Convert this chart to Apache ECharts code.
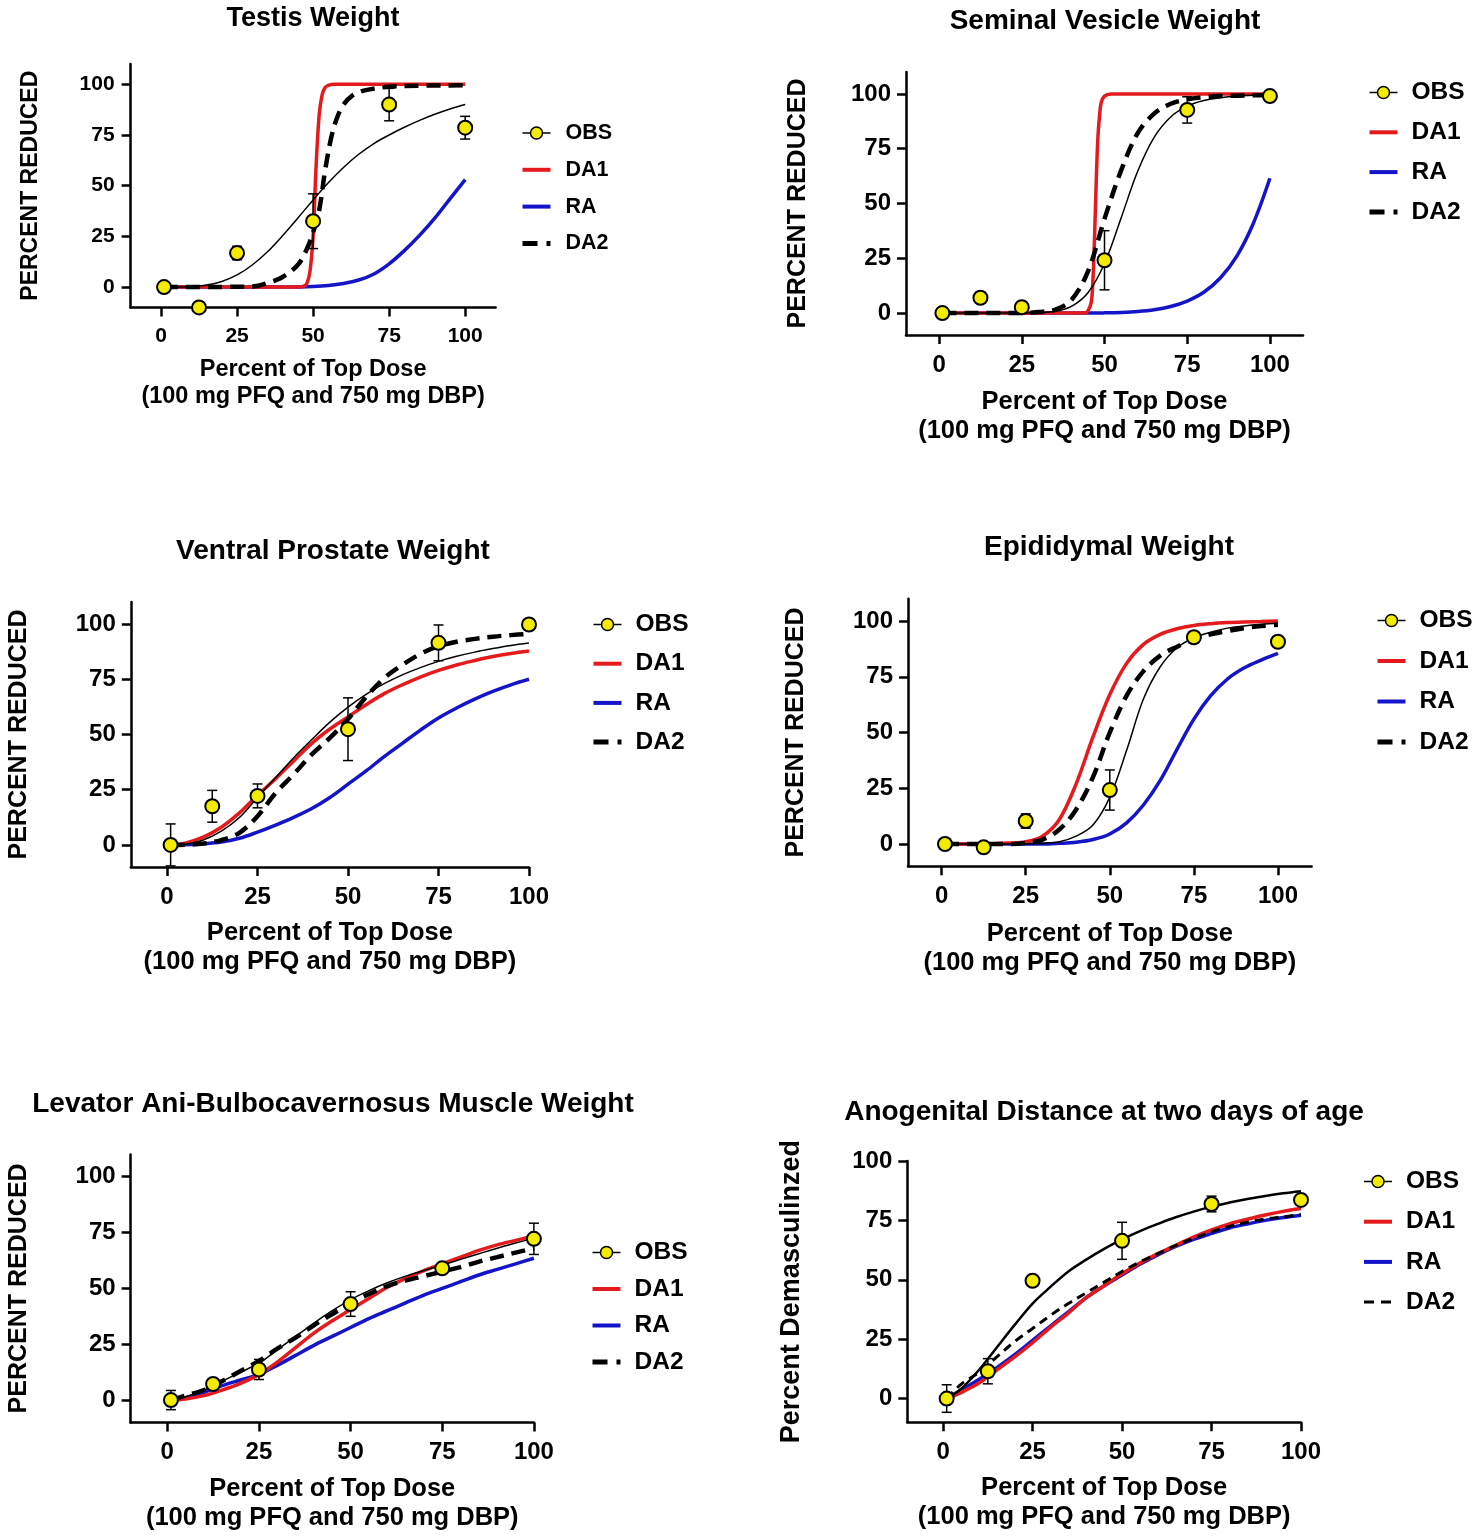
<!DOCTYPE html>
<html>
<head>
<meta charset="utf-8">
<script src="https://cdn.jsdelivr.net/npm/echarts@6/dist/echarts.min.js"></script>
<style>
html,body{margin:0;padding:0;background:#fff;width:1474px;height:1539px;overflow:hidden;}
.pane{position:absolute;left:0;top:0;width:1474px;height:1539px;}
</style>
</head>
<body>
<div id="c0" class="pane"></div>
<div id="c1" class="pane"></div>
<div id="c2" class="pane"></div>
<div id="c3" class="pane"></div>
<div id="c4" class="pane"></div>
<div id="c5" class="pane"></div>
<script>
// ---------- shared ----------
const tickValues = [0, 25, 50, 75, 100];
const obsDose = [1, 12.5, 25, 50, 75, 100];
const doseGrid = [1,5,10,15,20,25,30,35,40,45,50,55,60,65,70,75,80,85,90,95,100];
const xAxisName = 'Percent of Top Dose\n(100 mg PFQ and 750 mg DBP)';

// ---------- Testis Weight ----------
const testisObs = [0, -10, 16.8, 32.5, 90, 78.6];
const testisErr = [1.5, 2.5, 3.3, 13.5, 8, 5.6];
const testisFit = [0,0,0.2,1,2.8,6,10.9,17.4,25.4,34.1,43,51.5,59,65.5,70.8,75,78.8,82.2,85.2,87.8,90];
const testisRA  = [0,0,0,0,0,0,0,0,0.05,0.1,0.3,0.8,1.8,3.5,6.5,11.5,18,25.5,34,43.5,53];
const testisDA1Dose = [1,45,47,48,49,50,50.5,51,52,53,54,55,57,60,100];
const testisDA1     = [0,0,0.5,2,8,25,42,60,85,95,98.5,99.5,100,100,100];
const testisDA2Dose = [1,30,35,40,45,48,50,52,54,56,58,60,63,67,75,85,100];
const testisDA2     = [0,0.3,2,5,11,19,27,38,58,74,84,90,94.5,97,98.8,99.3,99.5];

// ---------- Seminal Vesicle Weight ----------
const svObs = [0, 7, 2.7, 24.1, 92.7, 99];
const svErr = [1, 2.5, 2.5, 13.5, 6, 1];
const svFit = [0,0,0,0,0,0,0.2,0.8,3.1,9.3,22.6,43.3,64.6,80.2,89.5,94.4,97,98.3,99.1,99.4,99.7];
const svRA  = [0,0,0,0,0,0,0,0,0,0,0.1,0.3,0.7,1.5,3,5.5,9.5,16,26,41,61.5];
const svDA1Dose = [1,44,45,46,46.5,47,47.5,48,48.5,49,50,52,100];
const svDA1     = [0,0,1,5,15,35,60,80,90,96,99,100,100];
const svDA2 = [0,0,0,0,0,0,0.5,1.5,6,19,43,65,82,91,95.5,97.5,98.5,99,99.2,99.4,99.5];

// ---------- Ventral Prostate Weight ----------
const vpObs = [0, 17.5, 22.2, 52.4, 91.5, 99.8];
const vpErr = [9.5, 7.2, 5.4, 14.2, 8.1, 1];
const vpFit = [0,0.35,2.2,6.2,12.4,21.5,30.5,39.5,47.7,55.6,62.4,68.2,73,77,80.3,83.1,85.4,87.3,88.9,90.3,91.4];
const vpDA1 = [0,0.8,3.5,8,14.5,22.5,30,38,46,52.5,58,63.5,68.5,72.5,76,79,81.5,83.5,85.3,86.7,87.8];
const vpRA  = [0,0.1,0.5,1.3,3,5.8,9,12.5,16.5,21.5,27.5,33.5,40,46,52,57.5,62,66,69.5,72.5,75];
const vpDA2 = [0,0.1,0.6,2.2,5.5,13,23.5,32,41,48.5,57,67,75.5,81.5,86.5,90,92,93.3,94.3,95,95.6];

// ---------- Epididymal Weight ----------
const epObs = [0, -1.5, 10.3, 24.2, 92.7, 90.7];
const epErr = [1, 1, 3.2, 9, 2.5, 1.5];
const epFit = [0,0,0,0,0,0,0.3,1,3.5,8.5,21,42,65,79.5,88,92.5,95,96.8,97.8,98.5,99];
const epDA1 = [0,0,0,0.1,0.4,1,3.5,11,27,48,67,81,89.5,94,96.5,98,98.8,99.3,99.6,99.8,100];
const epRA  = [0,0,0,0,0,0,0,0.3,0.8,2,4.5,9.5,17.5,28.5,42.5,56,66.5,74,79,82.5,85.5];
const epDA2 = [0,0,0,0,0,0.5,2,6.5,15.5,30,50,66.5,77.5,84.5,88.5,92,94,95.5,96.8,97.7,98.3];

// ---------- Levator Ani-Bulbocavernosus Muscle Weight ----------
const levObs = [0, 7.2, 13.7, 43, 59, 72.2];
const levErr = [4.3, 2, 4.5, 5.5, 2, 7];
const levFit = [0,1.5,4.5,8.5,12.5,16.5,22.5,28.5,34.5,40,45,49,52.5,55.5,58,60.5,63,65.5,68,70.3,72.5];
const levDA1 = [0,0.5,2,4.5,7.5,11.5,17,23.5,30,35.5,40.5,45.5,50.5,54.5,58,61,64,67,69.5,71.5,73.5];
const levRA  = [0,1,3.5,6.5,9,11.5,15.5,20,24.5,28.5,32.5,36.5,40,43.5,47,50,53,56,58.5,61,63.5];
const levDA2 = [0,2,4.5,8.5,13,17.5,23,28,33.5,38.5,43.5,47.5,51,53.5,55.5,57.5,59.5,62,64,66,68];

// ---------- Anogenital Distance ----------
const agdObs = [0, 11.5, 49.6, 66.4, 81.9, 83.6];
const agdErr = [5.8, 5.3, 1, 7.8, 3.3, 1];
const agdFit = [0,4,12,21.5,31,40,47,53.5,58.5,63,67,70.5,73.5,76.3,78.7,80.8,82.5,84,85.3,86.4,87.3];
const agdDA1 = [0,2.5,6.5,12,17.5,23.5,30,36,42.5,47.5,52.5,57,61,64.5,68,71,73.5,75.5,77.3,78.8,80];
const agdRA  = [0,3.5,8,13,18.5,24.5,30.5,36.5,42.5,47.5,52,56.5,60.5,64,67,69.5,71.8,73.5,75,76.2,77.2];
const agdDA2 = [0,6,11,17.5,24,29.5,35,40,44.5,49,53.5,57.5,61,64.5,67.5,70.2,72.5,74.2,75.6,76.5,77.5];

// ---------- rendering ----------
const FONT = '"Liberation Sans", Arial, Helvetica, sans-serif';
const RED = '#e41a1c', BLUE = '#1414c8', YELLOW = '#f4ec00';
function pairs(xs, ys) { return xs.map((x, i) => [x, ys[i]]); }
function errData(ys, es) { return obsDose.map((x, i) => [x, ys[i] - es[i], ys[i] + es[i]]); }

function errRender(params, api) {
  const x = api.value(0), lo = api.value(1), hi = api.value(2);
  const a = api.coord([x, hi]), b = api.coord([x, lo]);
  const w = 5;
  const st = { stroke: '#000', lineWidth: 1.5 };
  return { type: 'group', children: [
    { type: 'line', shape: { x1: a[0], y1: a[1], x2: b[0], y2: b[1] }, style: st },
    { type: 'line', shape: { x1: a[0] - w, y1: a[1], x2: a[0] + w, y2: a[1] }, style: st },
    { type: 'line', shape: { x1: b[0] - w, y1: b[1], x2: b[0] + w, y2: b[1] }, style: st }
  ]};
}

const panels = [
  { id: 'c0', title: 'Testis Weight', titleSize: 27, tx: 313, ty: 5.5,
    grid: { left: 130.6, top: 64, width: 365, height: 243.4 }, xMax: 110, yMax: 110,
    tickSize: 21, yLabelMargin: 16, nameSize: 23.5, nameLH: 27,
    yName: 'PERCENT REDUCED', yNameSize: 23, yNameGap: 88, xNameGap: 48.5,
    leg: { left: 520, top: 122, gap: 14.8, size: 21.5, pad: 10 },
    obs: testisObs, err: testisErr, fit: pairs(doseGrid, testisFit),
    da1: pairs(testisDA1Dose, testisDA1), ra: pairs(doseGrid, testisRA), da2: pairs(testisDA2Dose, testisDA2), thin: false },
  { id: 'c1', title: 'Seminal Vesicle Weight', titleSize: 28, tx: 1105, ty: 7,
    grid: { left: 906, top: 72, width: 397, height: 263 }, xMax: 110, yMax: 110,
    tickSize: 24, yLabelMargin: 15, nameSize: 25.5, nameLH: 29,
    yName: 'PERCENT REDUCED', yNameSize: 25, yNameGap: 95.5, xNameGap: 52.5,
    leg: { left: 1367, top: 80, gap: 14.8, size: 24.5, pad: 9 },
    obs: svObs, err: svErr, fit: pairs(doseGrid, svFit),
    da1: pairs(svDA1Dose, svDA1), ra: pairs(doseGrid, svRA), da2: pairs(doseGrid, svDA2), thin: false },
  { id: 'c2', title: 'Ventral Prostate Weight', titleSize: 28, tx: 333, ty: 537,
    grid: { left: 130.8, top: 602, width: 398.2, height: 265 }, xMax: 100, yMax: 110,
    tickSize: 24, yLabelMargin: 15, nameSize: 25.5, nameLH: 29,
    yName: 'PERCENT REDUCED', yNameSize: 25, yNameGap: 99, xNameGap: 51.5,
    leg: { left: 591, top: 612, gap: 14.2, size: 24.5, pad: 9 },
    obs: vpObs, err: vpErr, fit: pairs(doseGrid, vpFit),
    da1: pairs(doseGrid, vpDA1), ra: pairs(doseGrid, vpRA), da2: pairs(doseGrid, vpDA2), thin: false },
  { id: 'c3', title: 'Epididymal Weight', titleSize: 28, tx: 1109, ty: 533,
    grid: { left: 908, top: 598.7, width: 403.6, height: 267.6 }, xMax: 110, yMax: 110,
    tickSize: 24, yLabelMargin: 15, nameSize: 25.5, nameLH: 29,
    yName: 'PERCENT REDUCED', yNameSize: 25, yNameGap: 99, xNameGap: 53.5,
    leg: { left: 1375, top: 608, gap: 15.5, size: 24.5, pad: 9 },
    obs: epObs, err: epErr, fit: pairs(doseGrid, epFit),
    da1: pairs(doseGrid, epDA1), ra: pairs(doseGrid, epRA), da2: pairs(doseGrid, epDA2), thin: false },
  { id: 'c4', title: 'Levator Ani-Bulbocavernosus Muscle Weight', titleSize: 28, tx: 333, ty: 1090,
    grid: { left: 130.6, top: 1154.4, width: 403.3, height: 268 }, xMax: 100, yMax: 110,
    tickSize: 24, yLabelMargin: 15, nameSize: 25.5, nameLH: 29,
    yName: 'PERCENT REDUCED', yNameSize: 25, yNameGap: 99, xNameGap: 52.5,
    leg: { left: 590, top: 1240, gap: 11.5, size: 24.5, pad: 9 },
    obs: levObs, err: levErr, fit: pairs(doseGrid, levFit),
    da1: pairs(doseGrid, levDA1), ra: pairs(doseGrid, levRA), da2: pairs(doseGrid, levDA2), thin: false },
  { id: 'c5', title: 'Anogenital Distance at two days of age', titleSize: 28, tx: 1104, ty: 1098,
    grid: { left: 907.3, top: 1161, width: 393.7, height: 261.3 }, xMax: 100, yMax: 100,
    tickSize: 24, yLabelMargin: 15, nameSize: 25.5, nameLH: 29,
    yName: 'Percent Demasculinzed', yNameSize: 27, yNameGap: 102, xNameGap: 51.5,
    leg: { left: 1362, top: 1169, gap: 15.2, size: 24.5, pad: 9 },
    obs: agdObs, err: agdErr, fit: pairs(doseGrid, agdFit),
    da1: pairs(doseGrid, agdDA1), ra: pairs(doseGrid, agdRA), da2: pairs(doseGrid, agdDA2), thin: true }
];

function axisCommon(max) {
  return {
    type: 'value', min: -10, max: max,
    axisLine: { show: true, onZero: false, lineStyle: { color: '#000', width: 2.5 } },
    axisTick: { show: true, length: 9, customValues: tickValues, lineStyle: { color: '#000', width: 2.5 } },
    splitLine: { show: false }
  };
}

panels.forEach(p => {
  const chart = echarts.init(document.getElementById(p.id), null, { renderer: 'canvas', width: 1474, height: 1539 });
  const xAxis = Object.assign(axisCommon(p.xMax), {
    axisLabel: { customValues: tickValues, fontSize: p.tickSize, fontWeight: 'bold', color: '#000', margin: 18, fontFamily: FONT },
    name: xAxisName, nameLocation: 'middle', nameGap: p.xNameGap,
    nameTextStyle: { fontSize: p.nameSize, fontWeight: 'bold', color: '#000', lineHeight: p.nameLH, fontFamily: FONT }
  });
  const yAxis = Object.assign(axisCommon(p.yMax), {
    axisLabel: { customValues: tickValues, fontSize: p.tickSize, fontWeight: 'bold', color: '#000', margin: p.yLabelMargin, fontFamily: FONT },
    name: p.yName, nameLocation: 'middle', nameGap: p.yNameGap,
    nameTextStyle: { fontSize: p.yNameSize, fontWeight: 'bold', color: '#000', fontFamily: FONT }
  });
  const da2Style = p.thin
    ? { color: '#000', width: 3, type: [9, 6] }
    : { color: '#000', width: 4.5, type: [14, 8] };
  const da2Legend = p.thin
    ? { color: '#000', width: 3, type: [10, 7], opacity: 1 }
    : { color: '#000', width: 5, type: [15, 9], opacity: 1 };
  const fitWidth = p.thin ? 2.5 : 1.5;
  chart.setOption({
    animation: false,
    backgroundColor: 'transparent',
    textStyle: { fontFamily: FONT },
    title: {
      text: p.title, left: p.tx, top: p.ty, textAlign: 'center', padding: 0,
      textStyle: { fontSize: p.titleSize, fontWeight: 'bold', color: '#000', fontFamily: FONT }
    },
    grid: Object.assign({ containLabel: false }, p.grid),
    xAxis: xAxis,
    yAxis: yAxis,
    legend: {
      orient: 'vertical', left: p.leg.left, top: p.leg.top, itemGap: p.leg.gap,
      padding: 0, itemWidth: 28, itemHeight: 15, selectedMode: false,
      textStyle: { fontSize: p.leg.size, fontWeight: 'bold', color: '#000', fontFamily: FONT, padding: [0, 0, 0, p.leg.pad] },
      data: [
        { name: 'OBS', lineStyle: { color: '#000', width: 1.5, opacity: 1 }, itemStyle: { color: YELLOW, borderColor: '#000', borderWidth: 1.5 } },
        { name: 'DA1', lineStyle: { color: RED, width: 4, opacity: 1 }, itemStyle: { opacity: 0 } },
        { name: 'RA', lineStyle: { color: BLUE, width: 4, opacity: 1 }, itemStyle: { opacity: 0 } },
        { name: 'DA2', lineStyle: da2Legend, itemStyle: { opacity: 0 } }
      ]
    },
    series: [
      { type: 'line', name: 'RA', data: p.ra, symbol: 'none', smooth: 0.35, lineStyle: { color: BLUE, width: 3.5 }, itemStyle: { color: BLUE }, z: 2, silent: true },
      { type: 'line', name: 'DA1', data: p.da1, symbol: 'none', smooth: 0.35, lineStyle: { color: RED, width: 3.5 }, itemStyle: { color: RED }, z: 3, silent: true },
      { type: 'line', name: 'DA2', data: p.da2, symbol: 'none', smooth: 0.35, lineStyle: da2Style, itemStyle: { color: '#000' }, z: 4, silent: true },
      { type: 'line', name: 'Fit', data: p.fit, symbol: 'none', smooth: 0.35, lineStyle: { color: '#000', width: fitWidth }, itemStyle: { color: '#000' }, z: 5, silent: true },
      { type: 'custom', name: 'OBS error', data: errData(p.obs, p.err), renderItem: errRender, encode: { x: 0, y: [1, 2] }, z: 8, silent: true },
      { type: 'line', name: 'OBS', data: pairs(obsDose, p.obs), symbol: 'circle', symbolSize: 14, showSymbol: true, showAllSymbol: true,
        lineStyle: { opacity: 0, width: 0 }, itemStyle: { color: YELLOW, borderColor: '#000', borderWidth: 2 }, z: 10, silent: true }
    ]
  });
});
</script>
</body>
</html>
